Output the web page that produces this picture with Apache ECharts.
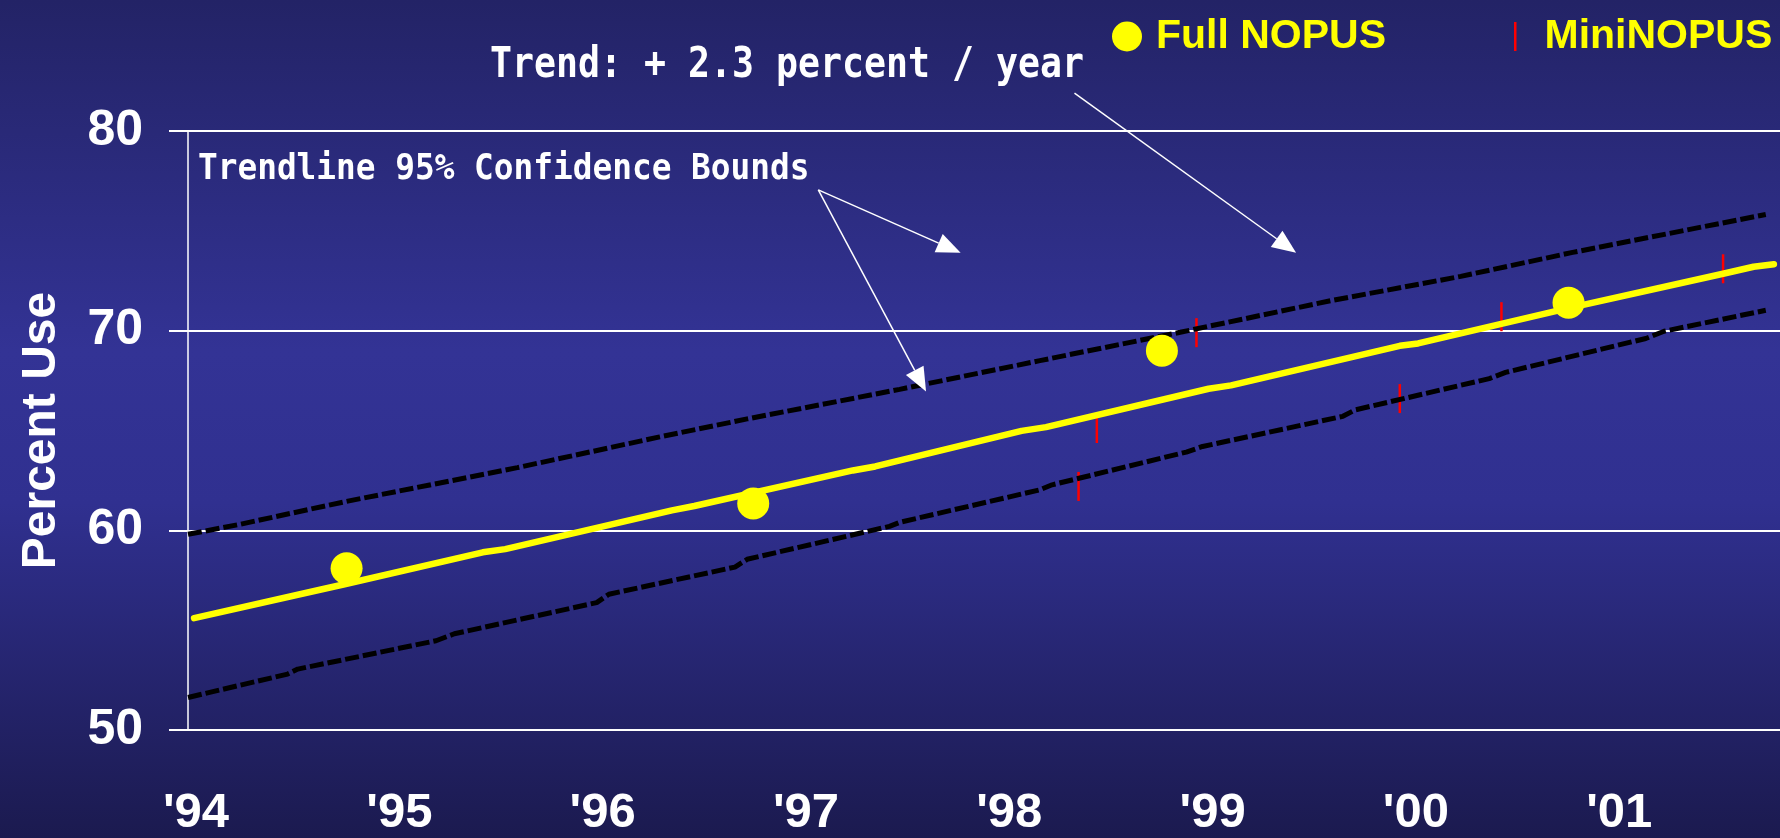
<!DOCTYPE html>
<html>
<head>
<meta charset="utf-8">
<title>NOPUS seat belt use</title>
<script src="https://cdn.jsdelivr.net/npm/echarts@6/dist/echarts.min.js"></script>
<style>
html, body { margin: 0; padding: 0; }
#main { width: 1780px; height: 838px; }
</style>
</head>
<body>
<div id="main"></div>
<script>
var sans = "'Liberation Sans', Arial, sans-serif";
var mono = "'DejaVu Sans Mono', 'Liberation Mono', monospace";

// Full NOPUS surveys
var fullYears = [1994.78, 1996.78, 1998.79, 2000.79];
var fullValues = [58.1, 61.35, 69.0, 71.4];

// MiniNOPUS surveys
var miniYears = [1998.38, 1998.47, 1998.96, 1999.96, 2000.46, 2001.55];
var miniValues = [62.2, 65.1, 69.9, 66.6, 70.7, 73.1];

// fitted trend
var trendYears = [1994.03, 1994.66, 1994.77, 1995.45, 1995.56, 1996.38, 1996.49, 1997.27, 1997.38,
  1998.10, 1998.22, 1999.02, 1999.13, 1999.96, 2000.05, 2000.79, 2001.55, 2001.70, 2001.80];
var trendValues = [55.6, 57.05, 57.3, 58.9, 59.06, 61.0, 61.22, 63.0, 63.2,
  64.98, 65.17, 67.09, 67.26, 69.24, 69.36, 71.13, 72.85, 73.2, 73.33];

// 95% confidence bounds
var upperYears = [1994.0, 1994.26, 1994.77, 1995.62, 1996.32, 1996.75, 1997.5, 1998.19, 1998.88, 1999.62, 2000.26, 2000.81, 2001.76];
var upperValues = [59.8, 60.31, 61.43, 63.14, 64.68, 65.58, 67.06, 68.5, 69.92, 71.5, 72.72, 73.92, 75.82];
var lowerYears = [1994.0, 1994.49, 1994.54, 1995.22, 1995.31, 1996.01, 1996.07, 1996.69, 1996.75, 1997.45, 1997.5,
  1998.19, 1998.25, 1998.91, 1998.99, 1999.68, 1999.74, 2000.40, 2000.48, 2001.17, 2001.26, 2001.76];
var lowerValues = [51.63, 52.8, 53.05, 54.47, 54.82, 56.38, 56.8, 58.16, 58.55, 60.2, 60.4,
  62.03, 62.28, 63.92, 64.2, 65.71, 66.03, 67.6, 67.91, 69.61, 69.97, 71.02];

// annotation arrows, data coordinates [from, to]
var arrows = [
  [[1997.10, 77.05], [1997.80, 73.9]],
  [[1997.10, 77.05], [1997.63, 66.95]],
  [[1998.36, 81.9], [1999.45, 73.9]]
];

function pairs(xs, ys) {
  return xs.map(function (x, i) { return [x, ys[i]]; });
}

var dom = document.getElementById('main');
var myChart = echarts.init(dom);

var option = {
  animation: false,
  backgroundColor: {
    type: 'linear', x: 0, y: 0, x2: 0, y2: 1,
    colorStops: [
      { offset: 0, color: '#232366' },
      { offset: 0.42, color: '#333395' },
      { offset: 0.6, color: '#303090' },
      { offset: 1, color: '#1b1a4f' }
    ]
  },
  legend: [{
    data: ['Full NOPUS'],
    left: 1107, top: 11,
    icon: 'circle',
    itemWidth: 30, itemHeight: 30,
    textStyle: { color: '#ffff00', fontFamily: sans, fontWeight: 'bold', fontSize: 41, padding: [0, 0, 0, 9] }
  }, {
    data: ['MiniNOPUS'],
    left: 1509, top: 11,
    icon: 'rect',
    itemWidth: 2.5, itemHeight: 29,
    textStyle: { color: '#ffff00', fontFamily: sans, fontWeight: 'bold', fontSize: 41, padding: [0, 0, 0, 23] }
  }],
  grid: { left: 188, right: 0, top: 131, bottom: 107 },
  xAxis: {
    type: 'value',
    min: 1994, max: 2001.83, interval: 1,
    splitLine: { show: false },
    axisLine: { show: false },
    axisTick: { show: false },
    axisLabel: {
      color: '#fff', fontFamily: sans, fontWeight: 'bold', fontSize: 49,
      margin: 59, padding: [0, 0, 0, 16], showMaxLabel: false,
      formatter: function (v) {
        return v % 1 === 0 ? "'" + String(v).slice(2) : '';
      }
    }
  },
  yAxis: {
    type: 'value',
    min: 50, max: 80, interval: 10,
    name: 'Percent Use',
    nameLocation: 'middle',
    nameGap: 122,
    nameTextStyle: { color: '#fff', fontFamily: sans, fontWeight: 'bold', fontSize: 48 },
    axisLine: { show: true, lineStyle: { color: '#fff', width: 1.5 } },
    axisTick: { show: true, length: 19, lineStyle: { color: '#fff', width: 2 } },
    splitLine: { lineStyle: { color: '#fff', width: 2 } },
    axisLabel: { color: '#fff', fontFamily: sans, fontWeight: 'bold', fontSize: 50, margin: 45 }
  },
  series: [{
    name: 'MiniNOPUS',
    type: 'scatter',
    symbol: 'rect',
    symbolSize: [2.5, 29],
    itemStyle: { color: '#ff0000', opacity: 1 },
    z: 1,
    data: pairs(miniYears, miniValues)
  }, {
    name: 'Upper bound',
    type: 'line',
    showSymbol: false,
    lineStyle: { color: '#000', width: 5, type: [14, 4] },
    z: 2,
    data: pairs(upperYears, upperValues)
  }, {
    name: 'Lower bound',
    type: 'line',
    showSymbol: false,
    lineStyle: { color: '#000', width: 5, type: [14, 4] },
    z: 2,
    data: pairs(lowerYears, lowerValues)
  }, {
    name: 'Trend',
    type: 'line',
    showSymbol: false,
    lineStyle: { color: '#ffff00', width: 6.5, cap: 'round', join: 'round' },
    z: 3,
    data: pairs(trendYears, trendValues)
  }, {
    name: 'Full NOPUS',
    type: 'scatter',
    symbol: 'circle',
    symbolSize: 32,
    itemStyle: { color: '#ffff00', opacity: 1 },
    z: 4,
    data: pairs(fullYears, fullValues)
  }]
};
myChart.setOption(option);

// labels and arrows
var graphics = [{
  type: 'text', x: 490, y: 66, scaleX: 0.87, z: 10,
  style: { text: 'Trend: + 2.3 percent / year', fill: '#fff', fontFamily: mono, fontWeight: 'bold', fontSize: 42, verticalAlign: 'middle' }
}, {
  type: 'text', x: 198, y: 170, scaleX: 0.91, z: 10,
  style: { text: 'Trendline 95% Confidence Bounds', fill: '#fff', fontFamily: mono, fontWeight: 'bold', fontSize: 36, verticalAlign: 'middle' }
}];

arrows.forEach(function (a) {
  var p0 = myChart.convertToPixel({ gridIndex: 0 }, a[0]);
  var p1 = myChart.convertToPixel({ gridIndex: 0 }, a[1]);
  var dx = p1[0] - p0[0], dy = p1[1] - p0[1];
  var len = Math.sqrt(dx * dx + dy * dy);
  var ux = dx / len, uy = dy / len;
  var headLen = 24, headW = 10;
  var bx = p1[0] - ux * headLen, by = p1[1] - uy * headLen;
  graphics.push({
    type: 'line', z: 10,
    shape: { x1: p0[0], y1: p0[1], x2: bx, y2: by },
    style: { stroke: '#fff', lineWidth: 1.5 }
  });
  graphics.push({
    type: 'polygon', z: 10,
    shape: { points: [p1, [bx - uy * headW, by + ux * headW], [bx + uy * headW, by - ux * headW]] },
    style: { fill: '#fff' }
  });
});

myChart.setOption({ graphic: graphics });
</script>
</body>
</html>
